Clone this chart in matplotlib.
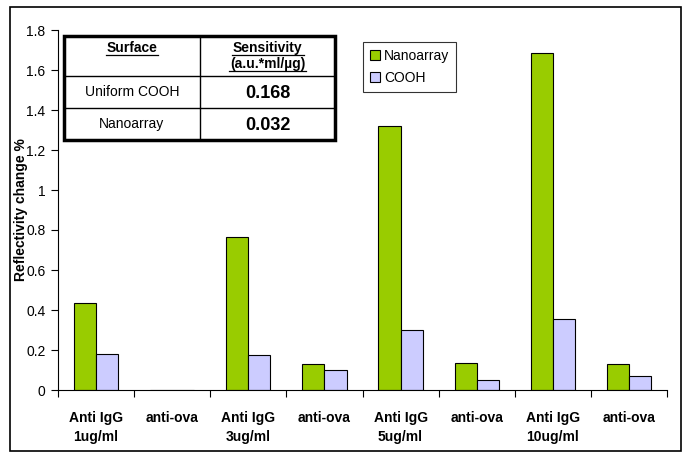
import matplotlib
matplotlib.use("Agg")
import matplotlib.pyplot as plt
from matplotlib.patches import Rectangle
from matplotlib.lines import Line2D
import numpy as np

plt.rcParams['font.family'] = ['Liberation Sans', 'DejaVu Sans']

categories = ["Anti IgG\n1ug/ml", "anti-ova", "Anti IgG\n3ug/ml", "anti-ova",
              "Anti IgG\n5ug/ml", "anti-ova", "Anti IgG\n10ug/ml", "anti-ova"]
nanoarray = [0.435, 0.0, 0.765, 0.13, 1.32, 0.135, 1.685, 0.13]
cooh = [0.18, 0.0, 0.175, 0.10, 0.30, 0.05, 0.355, 0.07]
series_names = ["Nanoarray", "COOH"]
yticks = [0, 0.2, 0.4, 0.6, 0.8, 1, 1.2, 1.4, 1.6, 1.8]
table_header = ["Surface", "Sensitivity", "(a.u.*ml/\u00b5g)"]
table_rows = [["Uniform COOH", "0.168"], ["Nanoarray", "0.032"]]

W, H = 685, 453
fig = plt.figure(figsize=(W / 100, H / 100), dpi=100)

def fx(px):
    return px / W

def fy(py):
    return 1 - py / H

ax = fig.add_axes([fx(58), fy(390), fx(667) - fx(58), fy(30) - fy(390)])
x = np.arange(len(categories))
bw = 0.29
ax.bar(x - bw / 2, nanoarray, bw, color="#99CC00", edgecolor="black", linewidth=0.8, label=series_names[0])
ax.bar(x + bw / 2, cooh, bw, color="#CCCCFF", edgecolor="black", linewidth=0.8, label=series_names[1])
ax.set_xlim(-0.5, len(categories) - 0.5)
ax.set_ylim(0, 1.8)
ax.set_yticks(yticks)
ax.set_yticklabels([f"{v:g}" for v in yticks], fontsize=10)
ax.set_xticks(x)
ax.set_xticklabels(categories, fontsize=10, fontweight="bold", linespacing=1.5)
ax.set_xticks(np.arange(-0.5, len(categories)), minor=True)
ax.tick_params(axis="x", which="major", length=0, pad=15)
ax.tick_params(axis="x", which="minor", length=5, direction="out", width=0.8)
ax.tick_params(axis="y", length=5, width=0.8, pad=4)
for s in ["top", "right"]:
    ax.spines[s].set_visible(False)
for s in ["left", "bottom"]:
    ax.spines[s].set_linewidth(0.8)
ax.set_ylabel("Reflectivity change %", fontsize=10, fontweight="bold")
ax.yaxis.set_label_coords(-0.05, 0.5)

leg = ax.legend(loc="upper left", bbox_to_anchor=(fx(363), fy(42)), bbox_transform=fig.transFigure,
                fontsize=10, frameon=True, fancybox=False, edgecolor="black",
                handlelength=0.7, handleheight=0.7, handletextpad=0.3, borderpad=0.5,
                labelspacing=0.55, borderaxespad=0)
leg.get_frame().set_linewidth(0.8)

# figure border
fig.add_artist(Rectangle((fx(10), fy(451)), fx(681) - fx(10), fy(7) - fy(451),
                         transform=fig.transFigure, fill=False, edgecolor="black", linewidth=1.2))

# table
tx0, tx1, tcol = 64, 335, 200
ty = [36, 76, 108, 140]
fig.add_artist(Rectangle((fx(tx0), fy(ty[3])), fx(tx1) - fx(tx0), fy(ty[0]) - fy(ty[3]),
                         transform=fig.transFigure, facecolor="white", edgecolor="black", linewidth=2.5, zorder=5))
for yy in ty[1:3]:
    fig.add_artist(Line2D([fx(tx0), fx(tx1)], [fy(yy), fy(yy)], transform=fig.transFigure,
                          color="black", linewidth=1, zorder=6))
fig.add_artist(Line2D([fx(tcol), fx(tcol)], [fy(ty[0]), fy(ty[3])], transform=fig.transFigure,
                      color="black", linewidth=1, zorder=6))

c1 = (tx0 + tcol) / 2
c2 = (tcol + tx1) / 2

def utext(cx, cy, s, size, ulen):
    fig.text(fx(cx), fy(cy), s, ha="center", va="center", fontsize=size, fontweight="bold", zorder=7)
    fig.add_artist(Line2D([fx(cx - ulen / 2), fx(cx + ulen / 2)], [fy(cy + 7), fy(cy + 7)],
                          transform=fig.transFigure, color="black", linewidth=0.9, zorder=7))

utext(c1, 48, table_header[0], 10, 52)
utext(c2, 48, table_header[1], 10, 72)
utext(c2, 64, table_header[2], 10, 77)
for i, (name, val) in enumerate(table_rows):
    cy = (ty[i + 1] + ty[i + 2]) / 2
    fig.text(fx(c1), fy(cy), name, ha="center", va="center", fontsize=10, zorder=7)
    fig.text(fx(c2), fy(cy + 1), val, ha="center", va="center", fontsize=13, fontweight="bold", zorder=7)

fig.savefig("out.png", dpi=100)
